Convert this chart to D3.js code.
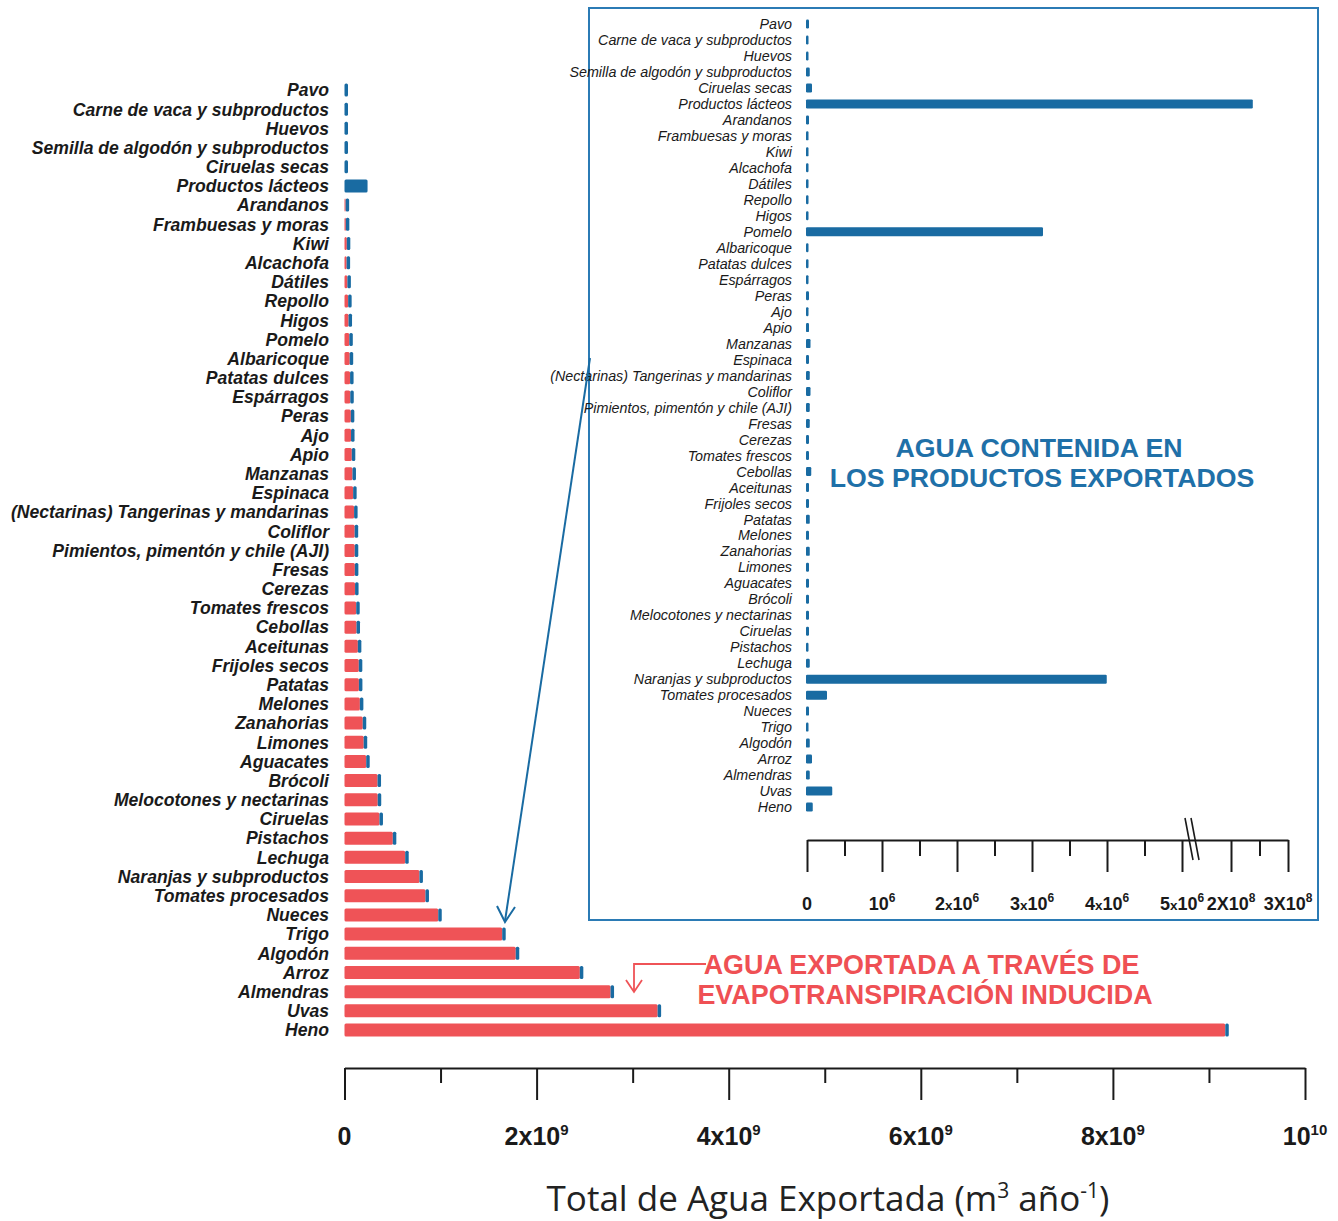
<!DOCTYPE html>
<html>
<head>
<meta charset="utf-8">
<script src="https://cdn.jsdelivr.net/npm/d3@7"></script>
<style>
  body { margin: 0; background: #fff; }
  svg { display: block; }
</style>
</head>
<body>
<svg id="chart" width="1338" height="1221"></svg>
<script>
// productos, de menor a mayor agua exportada
const products = [
  "Pavo", "Carne de vaca y subproductos", "Huevos", "Semilla de algodón y subproductos",
  "Ciruelas secas", "Productos lácteos", "Arandanos", "Frambuesas y moras", "Kiwi",
  "Alcachofa", "Dátiles", "Repollo", "Higos", "Pomelo", "Albaricoque", "Patatas dulces",
  "Espárragos", "Peras", "Ajo", "Apio", "Manzanas", "Espinaca",
  "(Nectarinas) Tangerinas y mandarinas", "Coliflor", "Pimientos, pimentón y chile (AJI)",
  "Fresas", "Cerezas", "Tomates frescos", "Cebollas", "Aceitunas", "Frijoles secos",
  "Patatas", "Melones", "Zanahorias", "Limones", "Aguacates", "Brócoli",
  "Melocotones y nectarinas", "Ciruelas", "Pistachos", "Lechuga", "Naranjas y subproductos",
  "Tomates procesados", "Nueces", "Trigo", "Algodón", "Arroz", "Almendras", "Uvas", "Heno"
];

// agua exportada por evapotranspiración inducida (10^9 m3/año)
const evapoBn = [
  0, 0, 0, 0, 0, 0, 0.012, 0.014, 0.024, 0.022, 0.030, 0.038, 0.042, 0.050, 0.054, 0.058,
  0.060, 0.066, 0.068, 0.076, 0.083, 0.090, 0.100, 0.106, 0.107, 0.108, 0.110, 0.122,
  0.125, 0.139, 0.149, 0.150, 0.160, 0.190, 0.200, 0.226, 0.344, 0.346, 0.364, 0.503,
  0.632, 0.780, 0.843, 0.976, 1.642, 1.783, 2.450, 2.770, 3.260, 9.170
];

// agua contenida en los productos (10^6 m3/año)
const containedMn = [
  0.04, 0.03, 0.03, 0.05, 0.08, 240, 0.04, 0.03, 0.03, 0.03, 0.03, 0.03, 0.03, 3.16,
  0.03, 0.03, 0.03, 0.04, 0.03, 0.04, 0.06, 0.04, 0.05, 0.06, 0.05, 0.05, 0.04, 0.04,
  0.07, 0.04, 0.04, 0.05, 0.04, 0.05, 0.04, 0.04, 0.04, 0.04, 0.04, 0.03, 0.05, 4.01,
  0.28, 0.04, 0.03, 0.05, 0.08, 0.05, 0.35, 0.09
];

const mainTicks = d3.range(0, 1e10 + 1, 1e9);
const mainTickLabels = ["0", "2x10|9", "4x10|9", "6x10|9", "8x10|9", "10|10"];
const insetTicks = d3.range(0, 5e6 + 1, 5e5).concat([2e8, 2.5e8, 3e8]);
const insetTickLabels = [
  [0, "0"], [1e6, "10|6"], [2e6, "2x10|6"], [3e6, "3x10|6"], [4e6, "4x10|6"],
  [5e6, "5x10|6"], [2e8, "2X10|8"], [3e8, "3X10|8"]
];

const RED = "#ef5357";
const BLUE = "#196ba2";
const INK = "#1a1a1a";
const SANS = "'Liberation Sans', Arial, sans-serif";
const NARROW = "'Liberation Sans Narrow', 'Liberation Sans', Arial, sans-serif";

const rows = products.map((name, i) => ({
  name,
  evapo: evapoBn[i] * 1e9,
  contained: containedMn[i] * 1e6
}));

const svg = d3.select("#chart");

// ---------- main chart ----------
const x = d3.scaleLinear().domain([0, 1e10]).range([344.5, 1305]);
const y = d3.scalePoint().domain(products).range([90, 1030]);
const barH = 13;

const main = svg.append("g");

main.selectAll("rect.evapo")
  .data(rows)
  .join("rect")
  .attr("class", "evapo")
  .attr("x", x(0))
  .attr("y", d => y(d.name) - barH / 2)
  .attr("width", d => x(d.evapo) - x(0))
  .attr("height", barH)
  .attr("rx", 1.5)
  .attr("fill", RED);

main.selectAll("rect.contained")
  .data(rows)
  .join("rect")
  .attr("class", "contained")
  .attr("x", d => x(d.evapo))
  .attr("y", d => y(d.name) - barH / 2)
  .attr("width", d => Math.max(x(d.contained) - x(0), 3.5))
  .attr("height", barH)
  .attr("rx", 1.5)
  .attr("fill", BLUE);

main.selectAll("text.label")
  .data(rows)
  .join("text")
  .attr("class", "label")
  .attr("x", 329)
  .attr("y", d => y(d.name))
  .attr("dy", "0.36em")
  .attr("text-anchor", "end")
  .attr("font-family", SANS)
  .attr("font-size", 17.6)
  .attr("font-weight", "bold")
  .attr("font-style", "italic")
  .attr("fill", INK)
  .text(d => d.name);

// main axis
const axisY = 1068;
const xAxis = main.append("g")
  .attr("transform", `translate(0,${axisY})`)
  .call(d3.axisBottom(x).tickValues(mainTicks).tickSizeOuter(0).tickFormat(""));
xAxis.select(".domain").attr("stroke", INK).attr("stroke-width", 2);
xAxis.selectAll(".tick line")
  .attr("stroke", INK)
  .attr("stroke-width", 2)
  .attr("y2", (d, i) => i % 2 === 0 ? 32 : 15);

function supLabel(sel, str, baseSize, supSize, xSmall) {
  const parts = str.split("|");
  const m = parts[0].match(/^(\d*)([xX]?)(10)$/) || [null, parts[0], "", ""];
  if (m[1]) sel.append("tspan").text(m[1]);
  if (m[2]) sel.append("tspan").attr("font-size", xSmall ? baseSize * 0.75 : baseSize).text(m[2]);
  if (m[3]) sel.append("tspan").text(m[3]);
  if (parts[1]) {
    sel.append("tspan").attr("font-size", supSize).attr("dy", -baseSize * 0.42).text(parts[1]);
  }
}

mainTickLabels.forEach((lab, i) => {
  const t = main.append("text")
    .attr("x", x(i * 2e9))
    .attr("y", 1145)
    .attr("text-anchor", "middle")
    .attr("font-family", NARROW)
    .attr("font-size", 25)
    .attr("font-weight", "bold")
    .attr("fill", INK);
  supLabel(t, lab, 25, 15, false);
});

// title
const title = main.append("text")
  .attr("x", 828)
  .attr("y", 1211)
  .attr("text-anchor", "middle")
  .attr("font-family", "'Open Sans', Lato, sans-serif")
  .attr("font-size", 35)
  .attr("fill", "#222");
title.append("tspan").text("Total de Agua Exportada (m");
title.append("tspan").attr("font-size", 21).attr("dy", -13).text("3");
title.append("tspan").attr("dy", 13).text(" año");
title.append("tspan").attr("font-size", 21).attr("dy", -13).text("-1");
title.append("tspan").attr("dy", 13).text(")");

// ---------- inset ----------
const inset = svg.append("g");
inset.append("rect")
  .attr("x", 589).attr("y", 8)
  .attr("width", 729).attr("height", 912)
  .attr("fill", "none")
  .attr("stroke", "#2b7bb5")
  .attr("stroke-width", 2);

const xi = d3.scaleLinear().domain([0, 5e6, 2e8, 3e8]).range([807, 1182, 1231, 1288]);
const yi = d3.scalePoint().domain(products).range([24, 807]);
const barHi = 9;

inset.selectAll("rect.inbar")
  .data(rows)
  .join("rect")
  .attr("class", "inbar")
  .attr("x", xi(0) - 1)
  .attr("y", d => yi(d.name) - barHi / 2)
  .attr("width", d => Math.max(xi(d.contained) - xi(0), 2.5))
  .attr("height", barHi)
  .attr("rx", 1.2)
  .attr("fill", BLUE);

inset.selectAll("text.inlabel")
  .data(rows)
  .join("text")
  .attr("class", "inlabel")
  .attr("x", 792)
  .attr("y", d => yi(d.name))
  .attr("dy", "0.36em")
  .attr("text-anchor", "end")
  .attr("font-family", SANS)
  .attr("font-size", 14.3)
  .attr("font-style", "italic")
  .attr("fill", INK)
  .text(d => d.name);

// inset axis
const inAxisY = 840;
const iAxis = inset.append("g")
  .attr("transform", `translate(0,${inAxisY})`)
  .call(d3.axisBottom(xi).tickValues(insetTicks).tickSizeOuter(0).tickFormat(""));
iAxis.select(".domain").attr("stroke", INK).attr("stroke-width", 2);
iAxis.selectAll(".tick line")
  .attr("stroke", INK)
  .attr("stroke-width", 2)
  .attr("y2", d => (d <= 5e6 ? d % 1e6 === 0 : d % 1e8 === 0) ? 32 : 16);

// axis break marks
[0, 6].forEach(off => {
  inset.append("line")
    .attr("x1", 1185 + off).attr("y1", 818)
    .attr("x2", 1193 + off).attr("y2", 860)
    .attr("stroke", INK).attr("stroke-width", 1.6);
});

insetTickLabels.forEach(([v, lab]) => {
  const t = inset.append("text")
    .attr("x", xi(v))
    .attr("y", 910)
    .attr("text-anchor", "middle")
    .attr("font-family", NARROW)
    .attr("font-size", 18)
    .attr("font-weight", "bold")
    .attr("fill", INK);
  supLabel(t, lab, 18, 12, !lab.includes("X"));
});

inset.append("text")
  .attr("x", 1039).attr("y", 457)
  .attr("text-anchor", "middle")
  .attr("font-family", SANS)
  .attr("font-size", 26.7)
  .attr("font-weight", "bold")
  .attr("fill", "#1f70a8")
  .text("AGUA CONTENIDA EN");
inset.append("text")
  .attr("x", 1042).attr("y", 487)
  .attr("text-anchor", "middle")
  .attr("font-family", SANS)
  .attr("font-size", 26.7)
  .attr("font-weight", "bold")
  .attr("fill", "#1f70a8")
  .text("LOS PRODUCTOS EXPORTADOS");

// ---------- annotations ----------
const ann = svg.append("g");

// blue arrow from the inset to the main bars
ann.append("line")
  .attr("x1", 590).attr("y1", 358)
  .attr("x2", 505).attr("y2", 921)
  .attr("stroke", BLUE).attr("stroke-width", 2);
ann.append("path")
  .attr("d", "M497,906 L505,922 L515,907")
  .attr("fill", "none").attr("stroke", BLUE).attr("stroke-width", 2);

// red arrow
ann.append("path")
  .attr("d", "M706,964 L634,964 L634,991")
  .attr("fill", "none").attr("stroke", RED).attr("stroke-width", 1.8);
ann.append("path")
  .attr("d", "M626,980 L634,992 L642,980")
  .attr("fill", "none").attr("stroke", RED).attr("stroke-width", 1.8);

ann.append("text")
  .attr("x", 921.5).attr("y", 974)
  .attr("text-anchor", "middle")
  .attr("font-family", SANS)
  .attr("font-size", 26.9)
  .attr("font-weight", "bold")
  .attr("fill", "#ef5054")
  .text("AGUA EXPORTADA A TRAVÉS DE");
ann.append("text")
  .attr("x", 925).attr("y", 1004)
  .attr("text-anchor", "middle")
  .attr("font-family", SANS)
  .attr("font-size", 26.9)
  .attr("font-weight", "bold")
  .attr("fill", "#ef5054")
  .text("EVAPOTRANSPIRACIÓN INDUCIDA");
</script>
</body>
</html>
